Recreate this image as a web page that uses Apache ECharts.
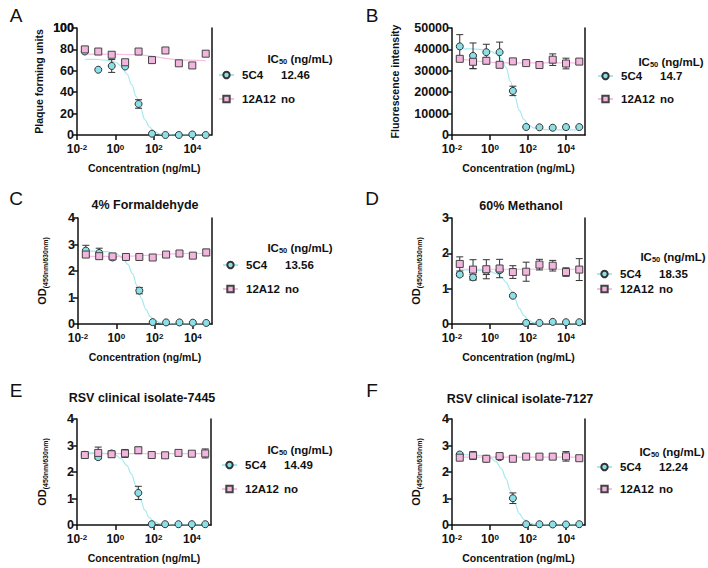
<!DOCTYPE html>
<html>
<head>
<meta charset="utf-8">
<script src="https://cdn.jsdelivr.net/npm/echarts@6/dist/echarts.min.js"></script>
<style>
html, body { margin: 0; padding: 0; background: #fff; }
#main { width: 708px; height: 568px; }
</style>
</head>
<body>
<div id="main"></div>
<script>
var FONT = '"Liberation Sans", Arial, Helvetica, sans-serif';

// concentrations (ng/mL), 5-fold dilutions
var conc = [0.0256, 0.128, 0.64, 3.2, 16, 80, 400, 2000, 10000, 50000];
var fitConc = [0.0256, 0.1, 0.3, 1, 2, 4, 7, 12, 20, 35, 60, 100, 200, 400, 1000, 5000, 50000];
var xTickExp = [-2, 0, 2, 4];

// A - plaque assay
var a5C4 = [78, 61, 64.5, 64, 29, 1.2, 0, 0, 0.5, 0];
var a5C4Sd = [0, 0, 6, 0, 4, 0, 0, 0, 0, 0];
var a12A12 = [80, 78, 75, 68, 78, 70, 79, 67, 65, 76];
var a12A12Sd = [0, 0, 0, 0, 0, 0, 0, 0, 0, 0];
var a5C4Fit = [70.8, 70.6, 70.0, 68, 64.5, 57, 47, 36, 25, 14, 7.5, 3.5, 1, 0.3, 0, 0, 0];
var a12A12Fit = [75.5, 75.5, 75.5, 75.4, 75.3, 75.2, 75.1, 75, 74.8, 74.4, 73.9, 73.4, 72.5, 71.6, 70.7, 69.9, 69.6];
var aTicks = [0, 20, 40, 60, 80, 100];

// B - fluorescence
var b5C4 = [41400, 37000, 38700, 38700, 20600, 3750, 3600, 3400, 3700, 3700];
var b5C4Sd = [5500, 6000, 3700, 4700, 2200, 0, 0, 0, 0, 0];
var b12A12 = [35600, 34200, 34700, 32800, 34400, 33600, 32700, 35200, 33400, 34300];
var b12A12Sd = [800, 3200, 1500, 800, 1000, 600, 900, 2700, 2500, 1000];
var b5C4Fit = [40300, 40200, 40000, 39300, 38000, 35500, 31500, 25000, 18000, 11500, 7300, 5000, 3300, 2800, 2500, 2400, 2400];
var b12A12Fit = [35600, 35000, 34400, 34000, 33800, 33750, 33700, 33700, 33700, 33700, 33700, 33700, 33700, 33700, 33700, 33700, 33700];
var bTicks = [0, 10000, 20000, 30000, 40000, 50000];

// C - 4% formaldehyde
var c5C4 = [2.77, 2.68, 2.51, 2.52, 1.26, 0.07, 0.06, 0.06, 0.05, 0.04];
var c5C4Sd = [0.2, 0.18, 0.08, 0, 0.12, 0, 0, 0, 0, 0];
var c12A12 = [2.62, 2.56, 2.55, 2.53, 2.53, 2.51, 2.62, 2.66, 2.58, 2.7];
var c12A12Sd = [0.1, 0.1, 0.05, 0.05, 0.05, 0.04, 0.08, 0.06, 0.05, 0.12];
var c5C4Fit = [2.76, 2.75, 2.73, 2.65, 2.5, 2.25, 1.9, 1.45, 0.98, 0.55, 0.28, 0.14, 0.05, 0.02, 0, 0, 0];
var c12A12Fit = [2.55, 2.55, 2.55, 2.55, 2.55, 2.56, 2.56, 2.57, 2.58, 2.59, 2.6, 2.61, 2.62, 2.64, 2.65, 2.66, 2.66];
var odTicks4 = [0, 1, 2, 3, 4];
var odTicks3 = [0, 1, 2, 3];

// D - 60% methanol
var d5C4 = [1.4, 1.32, 1.5, 1.52, 0.8, 0.03, 0.03, 0.06, 0.05, 0.05];
var d5C4Sd = [0.05, 0.08, 0.1, 0.05, 0.03, 0, 0, 0, 0, 0];
var d12A12 = [1.7, 1.54, 1.55, 1.57, 1.47, 1.48, 1.68, 1.65, 1.47, 1.54];
var d12A12Sd = [0.2, 0.28, 0.27, 0.26, 0.18, 0.27, 0.15, 0.15, 0.12, 0.31];
var d5C4Fit = [1.53, 1.53, 1.52, 1.49, 1.43, 1.33, 1.18, 0.97, 0.72, 0.44, 0.24, 0.12, 0.04, 0.01, 0, 0, 0];
var d12A12Fit = [1.55, 1.55, 1.55, 1.55, 1.55, 1.55, 1.55, 1.55, 1.55, 1.55, 1.55, 1.55, 1.55, 1.55, 1.55, 1.55, 1.55];

// E - clinical isolate 7445
var e5C4 = [2.65, 2.56, 2.7, 2.7, 1.21, 0.03, 0.03, 0.03, 0.03, 0.03];
var e5C4Sd = [0.05, 0.06, 0.08, 0.05, 0.25, 0, 0, 0, 0, 0];
var e12A12 = [2.64, 2.72, 2.67, 2.7, 2.82, 2.64, 2.63, 2.72, 2.69, 2.7];
var e12A12Sd = [0.08, 0.22, 0.12, 0.15, 0.12, 0.06, 0.05, 0.06, 0.06, 0.17];
var e5C4Fit = [2.72, 2.72, 2.7, 2.64, 2.5, 2.25, 1.92, 1.48, 1.0, 0.56, 0.28, 0.14, 0.05, 0.02, 0, 0, 0];
var e12A12Fit = [2.69, 2.69, 2.69, 2.69, 2.69, 2.69, 2.69, 2.69, 2.69, 2.69, 2.69, 2.69, 2.69, 2.69, 2.69, 2.69, 2.69];

// F - clinical isolate 7127
var f5C4 = [2.66, 2.6, 2.5, 2.56, 1.01, 0.03, 0.03, 0.02, 0.02, 0.03];
var f5C4Sd = [0.05, 0.05, 0.05, 0.05, 0.2, 0, 0, 0, 0, 0];
var f12A12 = [2.54, 2.62, 2.5, 2.6, 2.5, 2.58, 2.58, 2.58, 2.59, 2.52];
var f12A12Sd = [0.06, 0.15, 0.08, 0.1, 0.05, 0.05, 0.05, 0.05, 0.18, 0.08];
var f5C4Fit = [2.66, 2.65, 2.63, 2.56, 2.4, 2.12, 1.75, 1.28, 0.82, 0.43, 0.21, 0.1, 0.03, 0.01, 0, 0, 0];
var f12A12Fit = [2.56, 2.56, 2.56, 2.56, 2.56, 2.56, 2.56, 2.56, 2.56, 2.56, 2.56, 2.56, 2.56, 2.56, 2.56, 2.56, 2.56];

var letters = ['A', 'B', 'C', 'D', 'E', 'F'];
var titles = ['', '', '4% Formaldehyde', '60% Methanol', 'RSV clinical isolate-7445', 'RSV clinical isolate-7127'];
var yNames = ['Plaque forming units', 'Fluorescence intensity', 'OD', 'OD', 'OD', 'OD'];
var yTicks = [aTicks, bTicks, odTicks4, odTicks3, odTicks4, odTicks4];
var ic50 = ['12.46', '14.7', '13.56', '18.35', '14.49', '12.24'];

var panels = [
    [a5C4, a5C4Sd, a12A12, a12A12Sd, a5C4Fit, a12A12Fit],
    [b5C4, b5C4Sd, b12A12, b12A12Sd, b5C4Fit, b12A12Fit],
    [c5C4, c5C4Sd, c12A12, c12A12Sd, c5C4Fit, c12A12Fit],
    [d5C4, d5C4Sd, d12A12, d12A12Sd, d5C4Fit, d12A12Fit],
    [e5C4, e5C4Sd, e12A12, e12A12Sd, e5C4Fit, e12A12Fit],
    [f5C4, f5C4Sd, f12A12, f12A12Sd, f5C4Fit, f12A12Fit]
];

// pixel layout of each panel; topLabel = spot for the top y label that echarts drops in panel A
var layout = [
    { grid: { left: 77, top: 28, width: 134.5, height: 107 }, nameGap: 33, legend: [218, 69, 12], letter: [16, 15], title: null, ic: [300, 59], topLabel: [74, 28] },
    { grid: { left: 452, top: 28, width: 133, height: 107 }, nameGap: 52, legend: [597, 70, 11], letter: [372, 15], title: null, ic: [671, 62] },
    { grid: { left: 78, top: 218, width: 134, height: 106 }, nameGap: 29, legend: [222, 259, 12], letter: [16, 198], title: [145, 205], ic: [300, 248] },
    { grid: { left: 452, top: 218, width: 133, height: 106 }, nameGap: 29, legend: [596, 268, 3], letter: [372, 198], title: [521, 206], ic: [673, 257] },
    { grid: { left: 77, top: 419, width: 134, height: 106 }, nameGap: 28, legend: [221, 459, 12], letter: [16, 390], title: [142, 398], ic: [300, 450] },
    { grid: { left: 452, top: 419, width: 133, height: 106 }, nameGap: 29, legend: [596, 461, 10], letter: [372, 390], title: [520, 399], ic: [672, 452] }
];

var cyanFill = '#8ddfe7', cyanLine = '#a6e9ef';
var pinkFill = '#f2b5de', pinkLine = '#f5c0e3';
var ink = '#111';

function pairs(xs, ys) {
    return xs.map(function (x, k) { return [x, ys[k]]; });
}
function bars(ys, sd) {
    var out = [];
    conc.forEach(function (x, k) {
        if (sd[k] > 0) out.push([x, ys[k] - sd[k], ys[k] + sd[k]]);
    });
    return out;
}
function renderBar(params, api) {
    var lo = api.coord([api.value(0), api.value(1)]);
    var hi = api.coord([api.value(0), api.value(2)]);
    var w = 3.5;
    var st = { stroke: '#333', lineWidth: 1 };
    return {
        type: 'group',
        children: [
            { type: 'line', shape: { x1: lo[0], y1: lo[1], x2: hi[0], y2: hi[1] }, style: st },
            { type: 'line', shape: { x1: lo[0] - w, y1: lo[1], x2: lo[0] + w, y2: lo[1] }, style: st },
            { type: 'line', shape: { x1: hi[0] - w, y1: hi[1], x2: hi[0] + w, y2: hi[1] }, style: st }
        ]
    };
}

var option = {
    animation: false,
    backgroundColor: '#fff',
    textStyle: { fontFamily: FONT },
    grid: [], xAxis: [], yAxis: [], series: [], legend: [], graphic: []
};

panels.forEach(function (p, i) {
    var L = layout[i];
    var ticks = yTicks[i];
    var top = ticks[ticks.length - 1];
    option.grid.push(L.grid);

    option.xAxis.push({
        type: 'log', logBase: 10, gridIndex: i,
        min: 0.01, max: 100000, interval: 2,
        name: 'Concentration (ng/mL)', nameLocation: 'middle', nameGap: 27,
        nameTextStyle: { fontSize: 10.5, fontWeight: 'bold', color: ink, fontFamily: FONT },
        axisLine: { onZero: false, lineStyle: { color: ink, width: 1.5 } },
        axisTick: { length: 5, lineStyle: { color: ink, width: 1.5 } },
        minorTick: { show: false },
        splitLine: { show: false },
        axisLabel: {
            margin: 8, color: ink,
            showMaxLabel: false,
            formatter: function (v) {
                var e = Math.round(Math.log(v) / Math.LN10);
                if (xTickExp.indexOf(e) < 0) return '';
                return '{b|10}{s|' + e + '}';
            },
            rich: {
                b: { fontSize: 12, fontWeight: 'bold', color: ink, fontFamily: FONT, lineHeight: 12, padding: [4, 0, 0, 0], verticalAlign: 'bottom' },
                s: { fontSize: 8, fontWeight: 'bold', color: ink, fontFamily: FONT, lineHeight: 9, verticalAlign: 'top' }
            }
        }
    });

    var isOD = yNames[i] === 'OD';
    option.yAxis.push({
        type: 'value', gridIndex: i, min: 0, max: top, interval: ticks[1],
        name: isOD ? '{a|OD}{s|(450nm/630nm)}' : yNames[i],
        nameLocation: 'middle', nameRotate: 90, nameGap: L.nameGap,
        nameTextStyle: {
            fontSize: 10.5, fontWeight: 'bold', color: ink, fontFamily: FONT,
            rich: {
                a: { fontSize: 11, fontWeight: 'bold', color: ink, fontFamily: FONT, lineHeight: 13, verticalAlign: 'top' },
                s: { fontSize: 7, fontWeight: 'bold', color: ink, fontFamily: FONT, lineHeight: 8, verticalAlign: 'bottom' }
            }
        },
        axisLine: { show: true, onZero: false, lineStyle: { color: ink, width: 1.5 } },
        axisTick: { show: true, length: 5, customValues: ticks, lineStyle: { color: ink, width: 1.5 } },
        splitLine: { show: false },
        axisLabel: {
            margin: 3, fontSize: 12.5, fontWeight: 'bold', color: ink, fontFamily: FONT,
            customValues: ticks, showMinLabel: true, showMaxLabel: true,
            formatter: function (v) { return String(v); }
        }
    });
    // right frame line
    option.yAxis.push({
        type: 'value', gridIndex: i, position: 'right', min: 0, max: top,
        axisLine: { show: true, onZero: false, lineStyle: { color: ink, width: 1.5 } },
        axisTick: { show: false }, axisLabel: { show: false }, splitLine: { show: false }
    });
    if (L.topLabel) {
        option.graphic.push({
            type: 'text', x: L.topLabel[0], y: L.topLabel[1],
            style: { text: String(top), font: 'bold 12.5px ' + FONT, fill: ink, align: 'right', verticalAlign: 'middle' }
        });
    }

    var yi = 2 * i;
    // fitted curves carry the legend entries (line + symbol icon)
    option.series.push({
        type: 'line', name: '5C4', xAxisIndex: i, yAxisIndex: yi, z: 1,
        data: pairs(fitConc, p[4]), smooth: 0.4, smoothMonotone: 'x',
        symbol: 'circle', showSymbol: false,
        itemStyle: { color: cyanFill, borderColor: '#333', borderWidth: 1 },
        lineStyle: { color: cyanLine, width: 1.2 }, silent: true
    });
    option.series.push({
        type: 'line', name: '12A12', xAxisIndex: i, yAxisIndex: yi, z: 1,
        data: pairs(fitConc, p[5]), smooth: 0.4, smoothMonotone: 'x',
        symbol: 'rect', showSymbol: false,
        itemStyle: { color: pinkFill, borderColor: '#444', borderWidth: 1 },
        lineStyle: { color: pinkLine, width: 1.2 }, silent: true
    });
    option.series.push({
        type: 'custom', name: '5C4 sd', xAxisIndex: i, yAxisIndex: yi, z: 2,
        data: bars(p[0], p[1]), renderItem: renderBar, encode: { x: 0, y: [1, 2] }, silent: true
    });
    option.series.push({
        type: 'custom', name: '12A12 sd', xAxisIndex: i, yAxisIndex: yi, z: 2,
        data: bars(p[2], p[3]), renderItem: renderBar, encode: { x: 0, y: [1, 2] }, silent: true
    });
    option.series.push({
        type: 'scatter', name: '5C4 points', xAxisIndex: i, yAxisIndex: yi, z: 3,
        data: pairs(conc, p[0]), symbol: 'circle', symbolSize: 7, clip: false,
        itemStyle: { color: cyanFill, borderColor: '#333', borderWidth: 1, opacity: 1 },
        emphasis: { disabled: true }, silent: true
    });
    option.series.push({
        type: 'scatter', name: '12A12 points', xAxisIndex: i, yAxisIndex: yi, z: 4,
        data: pairs(conc, p[2]), symbol: 'rect', symbolSize: 7, clip: false,
        itemStyle: { color: pinkFill, borderColor: '#444', borderWidth: 1, opacity: 1 },
        emphasis: { disabled: true }, silent: true
    });

    var val = [ic50[i], 'no'];
    option.legend.push({
        left: L.legend[0], top: L.legend[1], orient: 'vertical', itemGap: L.legend[2],
        padding: 0, itemWidth: 15, itemHeight: 8, selectedMode: false,
        data: ['5C4', '12A12'],
        formatter: function (name) {
            return '{n|' + name + '}{v|' + val[name === '5C4' ? 0 : 1] + '}';
        },
        textStyle: {
            rich: {
                n: { width: 39, fontSize: 11.5, fontWeight: 'bold', color: ink, fontFamily: FONT, lineHeight: 14, padding: [0, 0, 0, 3] },
                v: { fontSize: 11.5, fontWeight: 'bold', color: ink, fontFamily: FONT, lineHeight: 14 }
            }
        }
    });

    option.graphic.push({
        type: 'text', x: L.letter[0], y: L.letter[1],
        style: { text: letters[i], font: '19px ' + FONT, fill: ink, align: 'center', verticalAlign: 'middle' }
    });
    if (L.title) {
        option.graphic.push({
            type: 'text', x: L.title[0], y: L.title[1],
            style: { text: titles[i], font: 'bold 12.5px ' + FONT, fill: ink, align: 'center', verticalAlign: 'middle' }
        });
    }
    option.graphic.push({
        type: 'text', x: L.ic[0], y: L.ic[1],
        style: {
            text: '{a|IC}{s|50}{a| (ng/mL)}', align: 'center', verticalAlign: 'middle',
            rich: {
                a: { fontSize: 11.5, fontWeight: 'bold', fill: ink, fontFamily: FONT, lineHeight: 13, verticalAlign: 'top' },
                s: { fontSize: 7.5, fontWeight: 'bold', fill: ink, fontFamily: FONT, lineHeight: 8, verticalAlign: 'bottom' }
            }
        }
    });
});

var myChart = echarts.init(document.getElementById('main'), null, { renderer: 'svg' });
myChart.setOption(option);
</script>
</body>
</html>
